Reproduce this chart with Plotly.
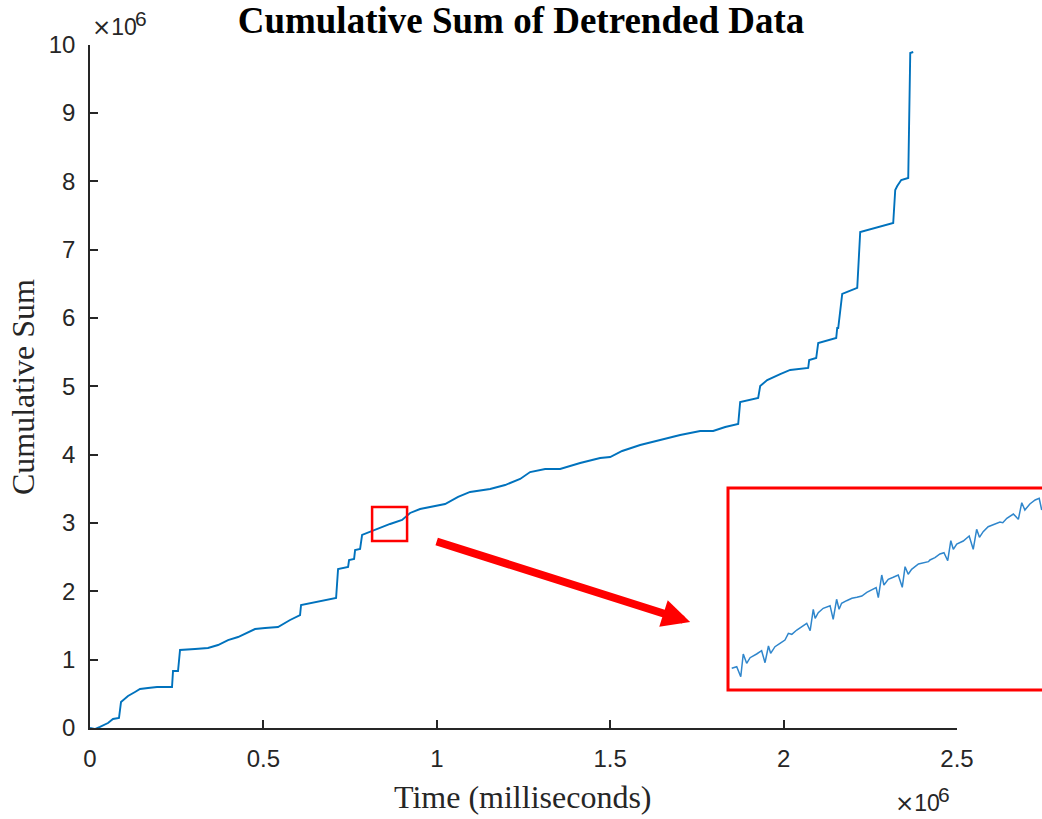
import plotly.graph_objects as go

# Cumulative sum of the detrended signal (time and sum both in units of 10^6)
time_m = [0.0, 0.0144, 0.0288, 0.0519, 0.0663, 0.0836, 0.0894, 0.1096, 0.1298, 0.1442,
          0.1673, 0.1932, 0.2365, 0.2394, 0.2538, 0.2596, 0.3028, 0.3403, 0.3692, 0.3980,
          0.4269, 0.4557, 0.4759, 0.5048, 0.5422, 0.5769, 0.6057, 0.6086, 0.6634, 0.7096,
          0.7153, 0.7442, 0.7470, 0.7615, 0.7644, 0.7788, 0.7846, 0.8134, 0.8653, 0.8999,
          0.9230, 0.9518, 0.9807, 1.0239, 1.0614, 1.0960, 1.1537, 1.1970, 1.2403, 1.2691,
          1.3124, 1.3556, 1.4133, 1.4710, 1.4999, 1.5345, 1.5864, 1.6441, 1.7018, 1.7595,
          1.7969, 1.8316, 1.8691, 1.8748, 1.9267, 1.9325, 1.9527, 1.9902, 2.0190, 2.0709,
          2.0738, 2.0940, 2.0998, 2.1517, 2.1546, 2.1575, 2.1690, 2.2123, 2.2209, 2.3161,
          2.3219, 2.3277, 2.3392, 2.3594, 2.3652, 2.3738]
cumsum_m = [0.0, -0.015, 0.015, 0.073, 0.132, 0.146, 0.380, 0.468, 0.527, 0.571,
            0.585, 0.600, 0.600, 0.834, 0.834, 1.141, 1.156, 1.170, 1.214, 1.287,
            1.331, 1.404, 1.448, 1.463, 1.478, 1.580, 1.653, 1.800, 1.858, 1.902,
            2.326, 2.356, 2.458, 2.473, 2.604, 2.619, 2.824, 2.882, 2.985, 3.043,
            3.146, 3.204, 3.233, 3.277, 3.380, 3.453, 3.497, 3.555, 3.643, 3.745,
            3.789, 3.789, 3.877, 3.950, 3.965, 4.053, 4.140, 4.214, 4.287, 4.345,
            4.345, 4.404, 4.448, 4.770, 4.828, 5.004, 5.091, 5.179, 5.238, 5.267,
            5.384, 5.413, 5.633, 5.706, 5.852, 5.852, 6.350, 6.438, 7.257, 7.389,
            7.871, 7.930, 8.018, 8.047, 9.876, 9.890]

# Detail of the zoom window, showing the sample-level fluctuations
zoom_time_m = [0.8146, 0.8162, 0.8175, 0.8183, 0.8194, 0.8205, 0.8226, 0.8242, 0.8253, 0.8264,
               0.8271, 0.8285, 0.8301, 0.8317, 0.8328, 0.8339, 0.8355, 0.8371, 0.8387, 0.8398,
               0.8408, 0.8414, 0.8424, 0.8440, 0.8462, 0.8472, 0.8483, 0.8491, 0.8499, 0.8515,
               0.8532, 0.8548, 0.8564, 0.8580, 0.8596, 0.8610, 0.8617, 0.8628, 0.8635, 0.8649,
               0.8665, 0.8681, 0.8694, 0.8703, 0.8713, 0.8724, 0.8746, 0.8762, 0.8778, 0.8783,
               0.8799, 0.8815, 0.8828, 0.8840, 0.8850, 0.8858, 0.8869, 0.8890, 0.8909, 0.8922,
               0.8933, 0.8942, 0.8954, 0.8970, 0.8992, 0.9008, 0.9017, 0.9030, 0.9051, 0.9067,
               0.9078, 0.9088, 0.9104, 0.9121, 0.9134, 0.9142]
zoom_cumsum_m = [2.7894, 2.7933, 2.7687, 2.8246, 2.8017, 2.8155, 2.8246, 2.8327, 2.8032, 2.8443,
                 2.8263, 2.8425, 2.8509, 2.8590, 2.8755, 2.8730, 2.8836, 2.8917, 2.9001, 2.8819,
                 2.9346, 2.9124, 2.9262, 2.9370, 2.9434, 2.9099, 2.9592, 2.9346, 2.9493, 2.9557,
                 2.9616, 2.9641, 2.9673, 2.9764, 2.9820, 2.9877, 2.9631, 3.0189, 2.9943, 3.0084,
                 3.0133, 3.0189, 2.9887, 3.0394, 3.0207, 3.0330, 3.0460, 3.0492, 3.0517, 3.0559,
                 3.0615, 3.0706, 3.0738, 3.0541, 3.1033, 3.0822, 3.0952, 3.1026, 3.1149, 3.0822,
                 3.1314, 3.1117, 3.1255, 3.1378, 3.1437, 3.1493, 3.1476, 3.1584, 3.1690, 3.1560,
                 3.1968, 3.1789, 3.1936, 3.2035, 3.2076, 3.1789]

x_ticks = [0, 0.5, 1, 1.5, 2, 2.5]
x_tick_text = ["0", "0.5", "1", "1.5", "2", "2.5"]
y_ticks = list(range(0, 11))
y_tick_text = [str(v) for v in y_ticks]

# Zoom window bounds (data units)
zoom_t = [0.8134, 0.9143]
zoom_v = [2.736, 3.233]

W, H = 1042, 819
AX_COLOR = "#262626"
LINE_COLOR = "#0072BD"
SANS = "Liberation Sans, Arial, sans-serif"
SERIF = "Liberation Serif, Times New Roman, serif"

fig = go.Figure()
fig.add_trace(go.Scatter(x=time_m, y=cumsum_m, mode="lines",
                         line=dict(color=LINE_COLOR, width=1.9),
                         xaxis="x", yaxis="y", showlegend=False, hoverinfo="skip"))
fig.add_trace(go.Scatter(x=zoom_time_m, y=zoom_cumsum_m, mode="lines",
                         line=dict(color="#2f86cc", width=1.5),
                         xaxis="x2", yaxis="y2", showlegend=False, hoverinfo="skip"))

main_x_dom = [90 / W, 957 / W]
main_y_dom = [(H - 728) / H, (H - 44.5) / H]
inset_x_dom = [728 / W, 1.0]
inset_y_dom = [(H - 690) / H, (H - 488) / H]

axis_common = dict(showgrid=False, zeroline=False, showline=True, linecolor=AX_COLOR,
                   linewidth=1.5, ticks="inside", ticklen=8, tickwidth=1.5,
                   tickcolor=AX_COLOR, mirror=False, automargin=False,
                   tickfont=dict(family=SANS, size=24, color=AX_COLOR))

fig.update_layout(
    width=W, height=H,
    margin=dict(l=0, r=0, t=0, b=0, pad=0),
    paper_bgcolor="white", plot_bgcolor="white",
    showlegend=False,
    title=dict(text="<b>Cumulative Sum of Detrended Data</b>",
               x=0.5, xanchor="center", y=1 - 20 / H, yanchor="middle",
               font=dict(family=SERIF, size=37, color="black")),
    xaxis=dict(domain=main_x_dom, range=[0, 2.5], tickvals=x_ticks, ticktext=x_tick_text,
               anchor="y", ticklabelstandoff=8, **axis_common),
    yaxis=dict(domain=main_y_dom, range=[0, 10], tickvals=y_ticks, ticktext=y_tick_text,
               anchor="x", ticklabelstandoff=8, **axis_common),
    xaxis2=dict(domain=inset_x_dom, range=zoom_t, visible=False, anchor="y2", automargin=False),
    yaxis2=dict(domain=inset_y_dom, range=zoom_v, visible=False, anchor="x2", automargin=False),
)

# Zoom window on the main axes and the frame around the inset
fig.add_shape(type="rect", xref="x", yref="y", x0=zoom_t[0], x1=zoom_t[1],
              y0=zoom_v[0], y1=zoom_v[1], line=dict(color="#ff0000", width=2.5))
fig.add_shape(type="rect", xref="paper", yref="paper", x0=inset_x_dom[0], x1=1.02,
              y0=inset_y_dom[0], y1=inset_y_dom[1], line=dict(color="#ff0000", width=3))

# Arrow pointing from the zoom window to the inset
fig.add_annotation(x=1.7306, y=1.551, xref="x", yref="y", ax=-255, ay=-81,
                   text="", showarrow=True, arrowhead=2, arrowsize=0.7,
                   arrowwidth=8, arrowcolor="#ff0000", standoff=0)

# Axis labels
fig.add_annotation(text="Time (milliseconds)", xref="paper", yref="paper",
                   x=522 / W, y=1 - 797 / H, showarrow=False, xanchor="center", yanchor="middle",
                   font=dict(family=SERIF, size=32, color=AX_COLOR))
fig.add_annotation(text="Cumulative Sum", xref="paper", yref="paper", textangle=-90,
                   x=23 / W, y=1 - 387 / H, showarrow=False, xanchor="center", yanchor="middle",
                   font=dict(family=SERIF, size=32, color=AX_COLOR))


def add_exponent(x_left_px, y_base_px):
    """Axis exponent marker: '×10' with a raised '6'."""
    fig.add_annotation(text="<span style='font-family:DejaVu Sans'>\u00d7</span>10",
                       xref="paper", yref="paper",
                       x=x_left_px / W, y=1 - y_base_px / H, showarrow=False,
                       xanchor="left", yanchor="middle",
                       font=dict(family=SANS, size=23, color=AX_COLOR))
    fig.add_annotation(text="6", xref="paper", yref="paper",
                       x=(x_left_px + 43) / W, y=1 - (y_base_px - 9) / H, showarrow=False,
                       xanchor="left", yanchor="middle",
                       font=dict(family=SANS, size=21, color=AX_COLOR))


add_exponent(90, 27)
add_exponent(893, 803)

fig.write_html("out.html")
